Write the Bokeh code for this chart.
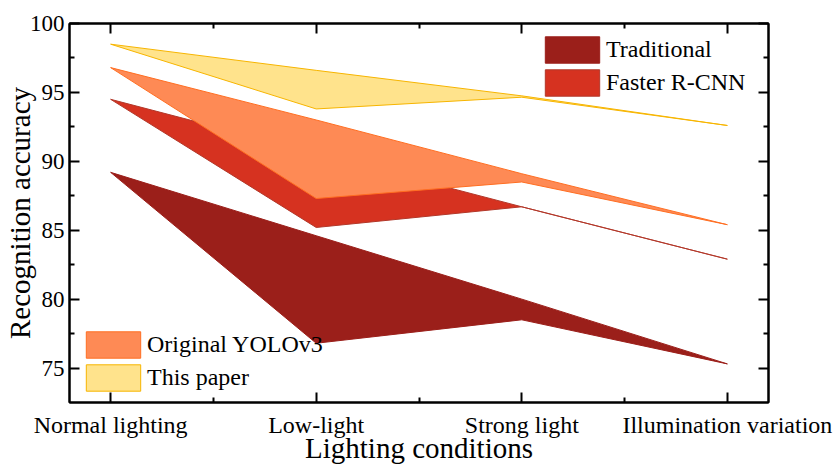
from bokeh.plotting import figure
from bokeh.models import (Range1d, FixedTicker, LinearAxis, Legend, LegendItem)
from bokeh.embed import file_html
from bokeh.resources import INLINE

categories = ["Normal lighting", "Low-light", "Strong light", "Illumination variation"]
x_pos = [0, 1, 2, 3]

trad_upper = [89.2, 84.6, 80.0, 75.3]
trad_lower = [89.2, 76.8, 78.5, 75.3]
frcnn_upper = [94.5, 90.6, 86.7, 82.9]
frcnn_lower = [94.5, 85.2, 86.7, 82.9]
yolo_upper = [96.8, 93.0, 89.1, 85.4]
yolo_lower = [96.8, 87.3, 88.5, 85.4]
ours_upper = [98.5, 96.6, 94.75, 92.6]
ours_lower = [98.5, 93.8, 94.65, 92.6]

y_ticks = [75, 80, 85, 90, 95, 100]
y_minor = [77.5, 82.5, 87.5, 92.5, 97.5]
x_minor = [0.5, 1.5, 2.5]

FONT = "Liberation Serif"

p = figure(width=834, height=466, output_backend="svg", toolbar_location=None,
           x_range=Range1d(-0.2, 3.2), y_range=Range1d(72.5, 100),
           min_border_left=68, min_border_right=66, min_border_top=23, min_border_bottom=64,
           x_axis_location=None, y_axis_location=None)
p.xgrid.visible = False
p.ygrid.visible = False
p.outline_line_color = "black"
p.outline_line_width = 2
p.background_fill_color = "white"
p.border_fill_color = "white"

series = [
    ("Traditional", trad_upper, trad_lower, "#9B1F1A", "#9B1F1A"),
    ("Faster R-CNN", frcnn_upper, frcnn_lower, "#D63220", "#B2382A"),
    ("Original YOLOv3", yolo_upper, yolo_lower, "#FE8A55", "#FF6E22"),
    ("This paper", ours_upper, ours_lower, "#FFE38C", "#F7B500"),
]
renderers = {}
for name, up, lo, fc, lc in series:
    xs = x_pos + x_pos[::-1]
    ys = list(up) + list(lo)[::-1]
    r = p.patch(xs, ys, fill_color=fc, line_color=lc, line_width=1)
    renderers[name] = r

def style_axis(ax, labels=True, size="23px"):
    ax.axis_line_width = 2
    ax.axis_line_color = "black"
    ax.major_tick_line_width = 2
    ax.minor_tick_line_width = 2
    ax.major_tick_in = 10
    ax.major_tick_out = 0
    ax.minor_tick_in = 5
    ax.minor_tick_out = 0
    ax.major_label_text_font = FONT
    ax.major_label_text_color = "black"
    ax.axis_label_text_font = FONT
    ax.axis_label_text_font_style = "normal"
    ax.axis_label_text_color = "black"
    ax.axis_label_text_font_size = "29px"
    if labels:
        ax.major_label_text_font_size = size
    else:
        ax.major_label_text_font_size = "0px"
        ax.major_label_standoff = 0

xb = LinearAxis(ticker=FixedTicker(ticks=x_pos, minor_ticks=x_minor))
xb.major_label_overrides = {i: c for i, c in zip(x_pos, categories)}
style_axis(xb, size="24px")
xb.major_label_standoff = 9
xb.major_label_text_line_height = 1.0
xb.axis_label = "Lighting conditions"
xb.axis_label_text_line_height = 0.8
xb.axis_label_standoff = -9
p.add_layout(xb, "below")

xa = LinearAxis(ticker=FixedTicker(ticks=x_pos, minor_ticks=x_minor))
style_axis(xa, labels=False)
p.add_layout(xa, "above")

yl = LinearAxis(ticker=FixedTicker(ticks=y_ticks, minor_ticks=y_minor))
style_axis(yl, size="23px")
yl.major_label_standoff = 5
yl.axis_label = "Recognition accuracy"
yl.axis_label_standoff = -9
p.add_layout(yl, "left")

yr = LinearAxis(ticker=FixedTicker(ticks=y_ticks, minor_ticks=y_minor))
style_axis(yr, labels=False)
p.add_layout(yr, "right")

def make_legend(names, loc):
    lg = Legend(items=[LegendItem(label=n, renderers=[renderers[n]]) for n in names],
                location=loc, orientation="vertical")
    lg.glyph_width = 68
    lg.glyph_height = 33
    lg.spacing = -2
    lg.padding = 0
    lg.margin = 0
    lg.label_standoff = 0
    lg.label_text_font = FONT
    lg.label_text_font_size = "24px"
    lg.label_text_color = "black"
    lg.border_line_alpha = 0
    lg.background_fill_alpha = 0
    return lg

p.add_layout(make_legend(["Traditional", "Faster R-CNN"], (469, 303)))
p.add_layout(make_legend(["Original YOLOv3", "This paper"], (10, 8)))

open("out.html", "w").write(file_html(p, INLINE))
